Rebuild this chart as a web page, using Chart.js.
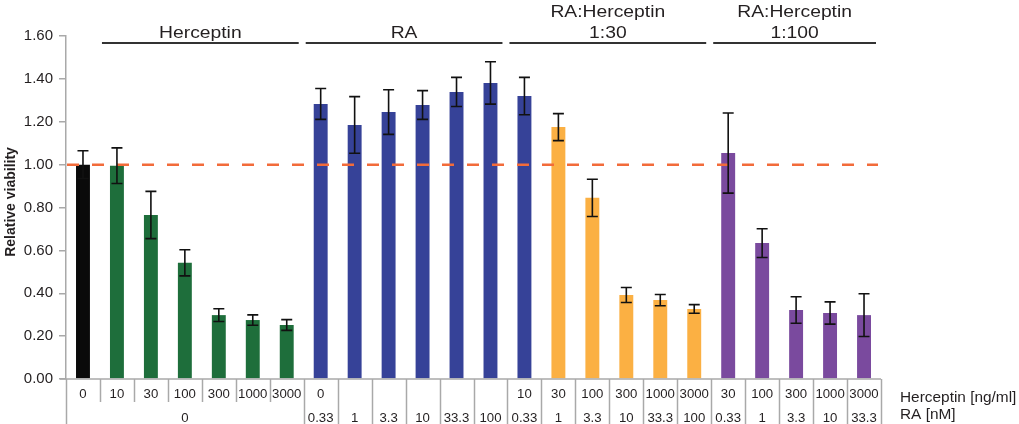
<!DOCTYPE html>
<html>
<head>
<meta charset="utf-8">
<script src="https://cdn.jsdelivr.net/npm/chart.js@4.4.1/dist/chart.umd.min.js"></script>
<style>
  html, body { margin: 0; padding: 0; background: #ffffff; }
  #wrap { width: 1019px; height: 424px; }
</style>
</head>
<body>
<div id="wrap"><canvas id="viability" width="1019" height="424"></canvas></div>
<script>
// Herceptin dose per bar (ng/ml); blank cells are left empty in the table
const herceptinDose = ['0', '10', '30', '100', '300', '1000', '3000',
  '0', '', '', '', '', '',
  '10', '30', '100', '300', '1000', '3000',
  '30', '100', '300', '1000', '3000'];

// RA dose per bar (nM); equal neighbours share one merged cell
const raDose = ['0', '0', '0', '0', '0', '0', '0',
  '0.33', '1', '3.3', '10', '33.3', '100',
  '0.33', '1', '3.3', '10', '33.3', '100',
  '0.33', '1', '3.3', '10', '33.3'];

// Treatment type of each bar
const treatment = ['control',
  'herceptin', 'herceptin', 'herceptin', 'herceptin', 'herceptin', 'herceptin',
  'ra', 'ra', 'ra', 'ra', 'ra', 'ra', 'ra',
  'combo30', 'combo30', 'combo30', 'combo30', 'combo30',
  'combo100', 'combo100', 'combo100', 'combo100', 'combo100'];

// Relative viability (mean) and error (+/-)
const viability = [1.00, 0.995, 0.765, 0.542, 0.298, 0.275, 0.252,
  1.283, 1.185, 1.245, 1.278, 1.339, 1.381,
  1.320, 1.175, 0.845, 0.392, 0.368, 0.327,
  1.054, 0.634, 0.322, 0.308, 0.298];
const viabilityErr = [0.065, 0.083, 0.110, 0.061, 0.030, 0.024, 0.025,
  0.072, 0.132, 0.104, 0.067, 0.068, 0.099,
  0.087, 0.063, 0.087, 0.035, 0.026, 0.020,
  0.187, 0.067, 0.062, 0.052, 0.100];

// Y axis range and tick step
const yMin = 0;
const yMax = 1.6;
const yStep = 0.2;
const referenceLevel = 1.0;

// Bracketed group headings above the bars (first/last bar index)
const groupHeadings = [
  { text: ['Herceptin'], first: 1, last: 6 },
  { text: ['RA'], first: 7, last: 12 },
  { text: ['RA:Herceptin', '1:30'], first: 13, last: 18 },
  { text: ['RA:Herceptin', '1:100'], first: 19, last: 23 }
];
const rowTitles = ['Herceptin [ng/ml]', 'RA [nM]'];
const axisTitle = 'Relative viability';

// ---- styles ----
const treatmentColor = {
  control: '#0a0a0a',
  herceptin: '#1e6e3b',
  ra: '#364298',
  combo30: '#fbb043',
  combo100: '#7a4a9e'
};
const FONT = 'Liberation Sans, Arial, Helvetica, sans-serif';
const TEXT = '#231f20';
const RULE = '#a9a9a9';

function wideText(ctx, text, x, y, sx, align) {
  ctx.save();
  ctx.translate(x, y);
  ctx.scale(sx, 1);
  ctx.textAlign = align;
  ctx.fillText(text, 0, 0);
  ctx.restore();
}

const overlayPlugin = {
  id: 'overlay',
  afterDatasetsDraw(chart) {
    const ctx = chart.ctx;
    const area = chart.chartArea;
    const y = chart.scales.y;
    const meta = chart.getDatasetMeta(0);

    // reference line at 1.00
    ctx.save();
    ctx.strokeStyle = '#f26b3a';
    ctx.lineWidth = 2.5;
    ctx.setLineDash([12, 13]);
    ctx.lineDashOffset = -1;
    const yr = y.getPixelForValue(referenceLevel);
    ctx.beginPath();
    ctx.moveTo(area.left, yr);
    ctx.lineTo(area.right - 3, yr);
    ctx.stroke();
    ctx.restore();

    // error bars
    ctx.save();
    ctx.strokeStyle = '#111111';
    ctx.lineWidth = 1.6;
    const cap = 5.5;
    meta.data.forEach((bar, i) => {
      const top = y.getPixelForValue(viability[i] + viabilityErr[i]);
      const bot = y.getPixelForValue(viability[i] - viabilityErr[i]);
      ctx.beginPath();
      ctx.moveTo(bar.x, top); ctx.lineTo(bar.x, bot);
      ctx.moveTo(bar.x - cap, top); ctx.lineTo(bar.x + cap, top);
      ctx.moveTo(bar.x - cap, bot); ctx.lineTo(bar.x + cap, bot);
      ctx.stroke();
    });
    ctx.restore();
  },
  afterDraw(chart) {
    const ctx = chart.ctx;
    const area = chart.chartArea;
    const x = chart.scales.x;
    const n = herceptinDose.length;
    const step = (x.getPixelForValue(1) - x.getPixelForValue(0));
    const edge = i => x.getPixelForValue(i) - step / 2;
    const H = chart.height;

    // dose table below the axis
    ctx.save();
    ctx.strokeStyle = RULE;
    ctx.lineWidth = 1.5;
    ctx.beginPath();
    ctx.moveTo(area.left - 6, area.bottom);
    ctx.lineTo(area.right, area.bottom);
    ctx.stroke();
    for (let k = 0; k <= n; k++) {
      const long = k === 0 || k === n || raDose[k] !== raDose[k - 1];
      const px = Math.round(edge(k)) + 0.5;
      ctx.beginPath();
      ctx.moveTo(px, area.bottom);
      ctx.lineTo(px, long ? H : area.bottom + 23);
      ctx.stroke();
    }
    ctx.restore();

    ctx.save();
    ctx.fillStyle = TEXT;
    ctx.font = '12px ' + FONT;
    ctx.textBaseline = 'alphabetic';
    herceptinDose.forEach((t, i) => {
      if (t) wideText(ctx, t, x.getPixelForValue(i), area.bottom + 19, 1.1, 'center');
    });
    let start = 0;
    for (let k = 1; k <= n; k++) {
      if (k === n || raDose[k] !== raDose[start]) {
        const cx = (edge(start) + edge(k)) / 2;
        wideText(ctx, raDose[start], cx, area.bottom + 43, 1.1, 'center');
        start = k;
      }
    }

    // row titles to the right of the table
    ctx.font = '14px ' + FONT;
    wideText(ctx, rowTitles[0], area.right + 19, area.bottom + 23, 1.1, 'left');
    wideText(ctx, rowTitles[1], area.right + 19, area.bottom + 40, 1.1, 'left');

    // group headings with rules
    ctx.font = '16.5px ' + FONT;
    groupHeadings.forEach(g => {
      const x0 = edge(g.first) + 2;
      const x1 = edge(g.last + 1) - 5;
      const cx = (x0 + x1) / 2;
      ctx.strokeStyle = '#333333';
      ctx.lineWidth = 2;
      ctx.beginPath();
      ctx.moveTo(x0, 43);
      ctx.lineTo(x1, 43);
      ctx.stroke();
      const lines = g.text;
      lines.forEach((t, j) => {
        const base = 38 - (lines.length - 1 - j) * 21;
        wideText(ctx, t, cx, base, 1.17, 'center');
      });
    });

    // y axis title
    ctx.font = 'bold 14px ' + FONT;
    ctx.translate(15, 202);
    ctx.rotate(-Math.PI / 2);
    ctx.textAlign = 'center';
    ctx.fillText(axisTitle, 0, 0);
    ctx.restore();
  }
};

new Chart(document.getElementById('viability'), {
  type: 'bar',
  data: {
    labels: herceptinDose.map((h, i) => h + ' / ' + raDose[i]),
    datasets: [{
      data: viability,
      backgroundColor: treatment.map(t => treatmentColor[t]),
      borderWidth: 0,
      barPercentage: 0.41,
      categoryPercentage: 1.0
    }]
  },
  options: {
    responsive: false,
    animation: false,
    devicePixelRatio: 1,
    layout: { padding: { top: 36, right: 138, bottom: 45, left: 0 } },
    plugins: { legend: { display: false }, tooltip: { enabled: false } },
    scales: {
      x: { display: false },
      y: {
        min: yMin,
        max: yMax,
        afterFit(scale) { scale.width = 66; },
        border: { display: true, color: RULE, width: 1.5 },
        grid: { drawOnChartArea: false, drawTicks: true, tickLength: 7, color: RULE, lineWidth: 1.5 },
        ticks: {
          stepSize: yStep,
          padding: 6,
          color: TEXT,
          font: { family: FONT, size: 15 },
          callback: v => Number(v).toFixed(2)
        }
      }
    }
  },
  plugins: [overlayPlugin]
});
</script>
</body>
</html>
